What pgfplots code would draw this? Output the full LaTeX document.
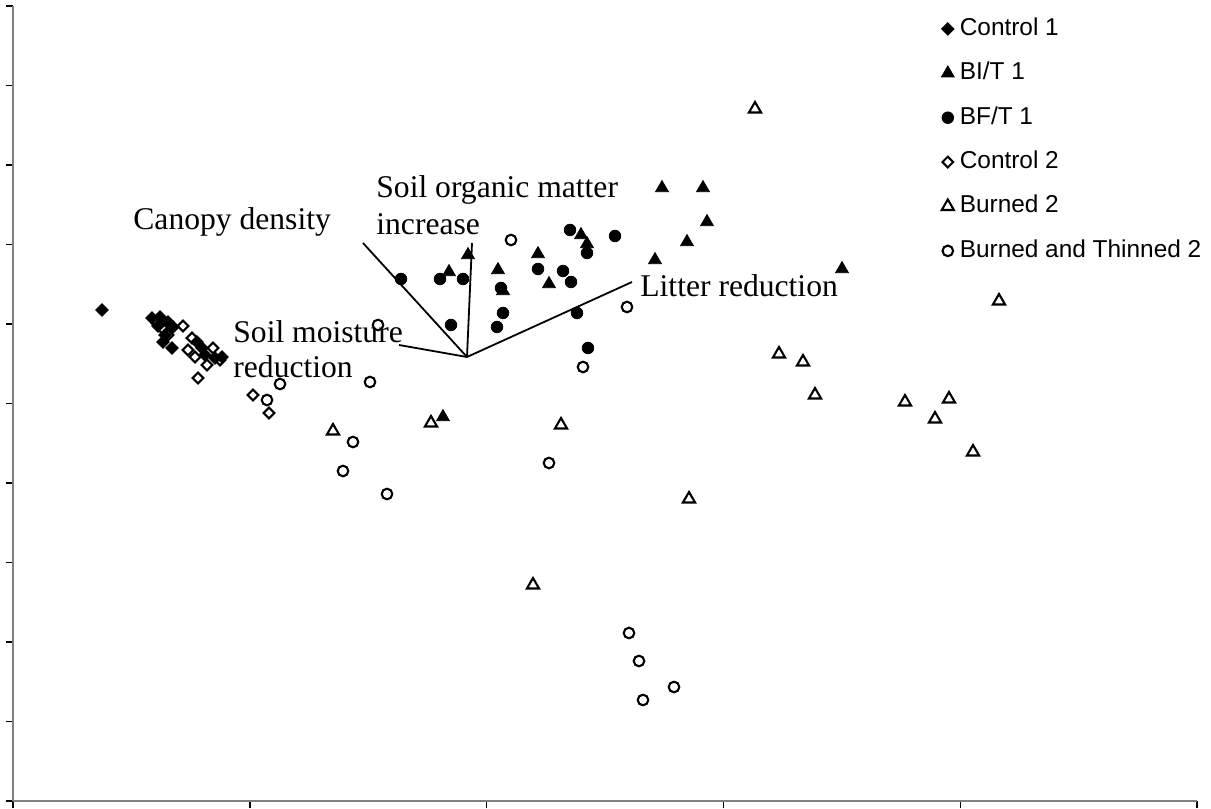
\documentclass[border=0pt]{standalone}
\usepackage{fontspec}
\setmainfont{Liberation Serif}
\newfontfamily\arial{Liberation Sans}
\usepackage{pgfplots}
\pgfplotsset{compat=1.18}

\begin{document}
\begin{tikzpicture}
\begin{axis}[
  scale only axis, width=592pt, height=397.5pt,
  xmin=13, xmax=1197, ymin=8, ymax=803,
  axis lines*=left,
  axis line style={draw=black!50, line width=1pt},
  xtick={13,249.8,486.6,723.4,960.2,1197},
  ytick={8,87.5,...,803},
  xticklabels={}, yticklabels={},
  tick label style={overlay},
  tick align=outside,
  major tick length=3.7pt,
  tick style={black, line width=0.7pt},
  clip=false,
  legend style={at={(axis cs:941,792)}, anchor=north west, draw=none, fill=none,
    inner sep=0pt, row sep=10.7pt,
    font=\arial\fontsize{12.2}{14}\selectfont,
    nodes={inner sep=0pt, text height=9pt, text depth=2.5pt},
    /tikz/every odd column/.append style={column sep=2.8pt}},
  legend cell align=left,
  legend image code/.code={\draw[#1] plot coordinates {(0pt,0pt)};},
]
% Control 1
\addplot[only marks, mark=square*, mark size=2.2pt, line width=0.4pt,
  mark options={rotate=45, draw=black, fill=black}]
  coordinates {(102,499) (152,491) (160,492) (168,487) (173,482) (165,474)
  (163,467) (172,461) (197,467) (202,461) (205,454) (215,451) (222,452) (158,483)};
\addlegendentry{Control 1}
% BI/T 1
\addplot[only marks, mark=triangle*, mark size=3.7pt, line width=0.4pt,
  mark options={draw=black, fill=black}]
  coordinates {(449,537) (468,554) (498,539) (503,518) (538,555) (549,525)
  (581,574) (587,565) (662,621) (703,621) (707,587) (687,567) (655,549)
  (842,540) (443,392)};
\addlegendentry{BI/T 1}
% BF/T 1
\addplot[only marks, mark=*, mark size=2.9pt, line width=0.4pt,
  mark options={draw=black, fill=black}]
  coordinates {(401,530) (440,530) (463,530) (451,484) (497,482) (503,496)
  (501,521) (538,540) (563,538) (571,527) (570,579) (587,556) (615,573)
  (577,496) (588,461)};
\addlegendentry{BF/T 1}
% Control 2
\addplot[only marks, mark=square, mark size=1.9pt, line width=1pt,
  mark options={rotate=45, draw=black, fill=white}]
  coordinates {(157,486) (162,481) (168,474) (183,483) (192,471) (188,459)
  (195,452) (213,461) (220,449) (207,444) (198,431) (253,414) (269,396)};
\addlegendentry{Control 2}
% Burned 2
\addplot[only marks, mark=triangle, mark size=3.5pt, line width=1.05pt,
  mark options={draw=black, fill=white}]
  coordinates {(755,700) (999,508) (779,455) (803,447) (815,414) (905,407)
  (949,410) (935,390) (973,357) (561,384) (689,310) (533,224) (431,386) (333,378)};
\addlegendentry{Burned 2}
% Burned and Thinned 2
\addplot[only marks, mark=o, mark size=2.65pt, line width=1.05pt,
  mark options={draw=black, fill=white}]
  coordinates {(511,569) (627,502) (583,442) (378,484) (280,425) (267,409)
  (370,427) (353,367) (343,338) (387,315) (549,346) (629,176) (639,148)
  (674,122) (643,109)};
\addlegendentry{Burned and Thinned 2}

% environmental vectors
\draw[black, line width=0.9pt] (axis cs:467,452) -- (axis cs:363,566);
\draw[black, line width=0.9pt] (axis cs:467,452) -- (axis cs:472,566);
\draw[black, line width=0.9pt] (axis cs:467,452) -- (axis cs:632,527);
\draw[black, line width=0.9pt] (axis cs:467,452) -- (axis cs:399,464);

\begin{scope}[every node/.style={anchor=base west, inner sep=0pt,
    font=\fontsize{15.8}{18.5}\selectfont}]
\node at (axis cs:133,579) {Canopy density};
\node at (axis cs:376,611) {Soil organic matter};
\node at (axis cs:376,574) {increase};
\node at (axis cs:640,512) {Litter reduction};
\node at (axis cs:233,466) {Soil moisture};
\node at (axis cs:233,431) {reduction};
\end{scope}

\coordinate (bbA) at (axis cs:0,0);
\coordinate (bbB) at (axis cs:1211,809);
\end{axis}
\pgfresetboundingbox
\path[use as bounding box] (bbA) rectangle (bbB);
\end{tikzpicture}
\end{document}
